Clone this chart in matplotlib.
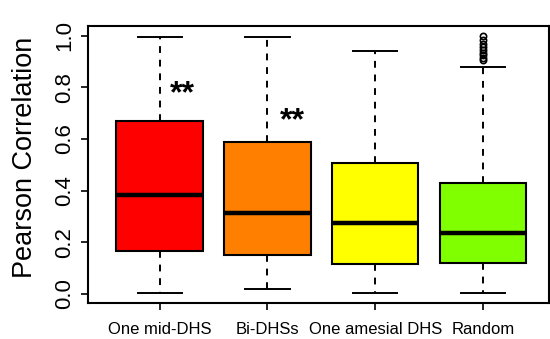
import numpy as np
import matplotlib
matplotlib.use('Agg')
from matplotlib import pyplot as plt

plt.rcParams['font.family'] = ['Liberation Sans', 'DejaVu Sans']

# box statistics
categories = ['One mid-DHS', 'Bi-DHSs', 'One amesial DHS', 'Random']
whisker_low = [0.003, 0.017, 0.003, 0.003]
q1 = [0.164, 0.151, 0.117, 0.121]
medians = [0.383, 0.312, 0.276, 0.235]
q3 = [0.670, 0.587, 0.508, 0.431]
whisker_high = [0.996, 0.996, 0.942, 0.880]
outliers = [[], [], [], [0.905, 0.915, 0.925, 0.935, 0.945, 0.955, 0.97, 0.985, 0.998]]
colors = ['#FF0000', '#FF8000', '#FFFF00', '#80FF00']

# significance marks
star_x = [1.21, 2.23]
star_y = [0.775, 0.668]

stats = []
for i, name in enumerate(categories):
    stats.append(dict(label=name, whislo=whisker_low[i], q1=q1[i], med=medians[i],
                      q3=q3[i], whishi=whisker_high[i], fliers=outliers[i]))

fig = plt.figure(figsize=(5.5, 3.39), dpi=100)
ax = fig.add_axes([88 / 550, 36 / 339, 461 / 550, 277 / 339])

bp = ax.bxp(stats, positions=[1, 2, 3, 4], widths=0.8, patch_artist=True,
            showfliers=True, capwidths=0.41,
            boxprops=dict(linewidth=1.5, edgecolor='black'),
            medianprops=dict(linewidth=3.2, color='black', solid_capstyle='butt'),
            whiskerprops=dict(linewidth=1.4, linestyle=(0, (3.5, 3.5)), color='black'),
            capprops=dict(linewidth=1.4, color='black'),
            flierprops=dict(marker='o', markersize=4.5, markerfacecolor='none',
                            markeredgecolor='black', markeredgewidth=1.2))
for patch, col in zip(bp['boxes'], colors):
    patch.set_facecolor(col)

for x, y in zip(star_x, star_y):
    ax.text(x, y, '**', fontsize=23, fontweight='bold', ha='center', va='center')

ax.set_xlim(0.336, 4.61)
ax.set_ylim(-0.036, 1.038)
ax.set_yticks([0.0, 0.2, 0.4, 0.6, 0.8, 1.0])
ax.set_yticklabels(['0.0', '0.2', '0.4', '0.6', '0.8', '1.0'], rotation=90, va='center')
ax.tick_params(axis='y', labelsize=16, length=5, width=1.2, pad=4)
ax.tick_params(axis='x', labelsize=12, length=5, width=1.2, pad=9)
for side in ax.spines.values():
    side.set_linewidth(1.5)

fig.text(25 / 550, 1 - 157 / 339, 'Pearson Correlation', rotation=90,
         fontsize=19.5, ha='center', va='center')

plt.savefig('out.png', dpi=100)
